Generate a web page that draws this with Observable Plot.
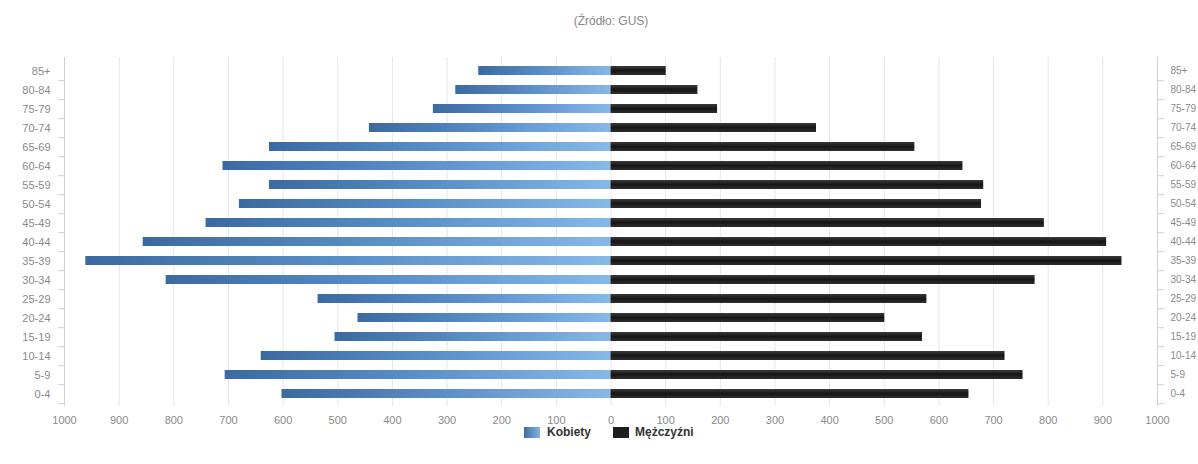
<!DOCTYPE html>
<html>
<head>
<meta charset="utf-8">
<script src="https://cdn.jsdelivr.net/npm/d3@7"></script>
<script src="https://cdn.jsdelivr.net/npm/@observablehq/plot@0.6"></script>
<style>
  body { margin: 0; background: #fff; font-family: "Liberation Sans", Arial, sans-serif; }
  #wrap { position: relative; width: 1198px; height: 464px; overflow: hidden; }
  #title { position: absolute; top: 14px; left: 0; width: 1222px; text-align: center; font-size: 12px; color: #888; }
  #chart { position: absolute; top: 40px; left: 0; }
  .sw { position: absolute; top: 427px; width: 16px; height: 11px; }
  .lg { position: absolute; top: 425px; font-size: 12px; font-weight: bold; color: #333; line-height: 14px; }
</style>
</head>
<body>
<div id="wrap">
  <div id="title">(Źródło: GUS)</div>
  <div id="chart"></div>
  <div class="sw" style="left:524px;background:linear-gradient(90deg,#3d6fa6,#80b3e4);"></div>
  <div class="lg" style="left:547px;">Kobiety</div>
  <div class="sw" style="left:613px;background:#1e1e1e;"></div>
  <div class="lg" style="left:635px;">Mężczyźni</div>
</div>
<script>
// Age groups, top to bottom
const ages = ["85+","80-84","75-79","70-74","65-69","60-64","55-59","50-54","45-49","40-44","35-39","30-34","25-29","20-24","15-19","10-14","5-9","0-4"];
// Population in thousands
const kobiety   = [242, 284, 325, 442, 625, 710, 625, 680, 741, 856, 961, 814, 536, 463, 505, 640, 706, 602];
const mezczyzni = [101, 159, 195, 376, 556, 644, 682, 678, 793, 907, 935, 776, 578, 501, 570, 721, 754, 655];
const xTicks = d3.range(-1000, 1001, 100);

const rows = ages.map((age, i) => ({age, women: kobiety[i], men: mezczyzni[i]}));

const H = 385, MT = 17, MB = 19;
const step = (H - MT - MB) / ages.length;
const axisColor = "#c8d0da";

const chart = Plot.plot({
  width: 1198,
  height: H,
  marginTop: MT,
  marginBottom: MB,
  marginLeft: 64,
  marginRight: 41,
  style: {fontFamily: "'Liberation Sans', Arial, sans-serif", fontSize: "11px", color: "#8a8a8a", background: "#fff"},
  x: {domain: [-1000, 1000], label: null},
  y: {domain: ages, paddingInner: 0.55, paddingOuter: 0.275, label: null},
  marks: [
    Plot.ruleX(xTicks, {stroke: "#e6e6e6", strokeWidth: 1}),
    Plot.ruleX([-1000, 1000], {stroke: axisColor}),
    // category boundary ticks on both side axes
    Plot.axisY({anchor: "left", text: null, tickSize: 6, stroke: axisColor, dy: step / 2}),
    Plot.axisY({anchor: "right", text: null, tickSize: 6, stroke: axisColor, dy: step / 2}),
    Plot.axisY({anchor: "left", tickSize: 0, tickPadding: 14, fontSize: 11}),
    Plot.axisY({anchor: "right", tickSize: 0, tickPadding: 13, fontSize: 10, textAnchor: "start"}),
    Plot.axisX({anchor: "bottom", ticks: xTicks, tickSize: 0, tickPadding: 10, fontSize: 11, tickFormat: d => String(Math.abs(d))}),
    Plot.barX(rows, {y: "age", x1: d => -d.women, x2: 0, fill: "url(#gradK)"}),
    Plot.barX(rows, {y: "age", x1: 0, x2: "men", fill: "url(#gradM)"})
  ]
});

// Gradients used by the bar fills
const ns = "http://www.w3.org/2000/svg";
const defs = document.createElementNS(ns, "defs");
defs.innerHTML = `
  <linearGradient id="gradK" x1="0" y1="0" x2="1" y2="0">
    <stop offset="0" stop-color="#3b6aa0"/>
    <stop offset="0.5" stop-color="#5a8fc8"/>
    <stop offset="1" stop-color="#86b8e8"/>
  </linearGradient>
  <linearGradient id="gradM" x1="0" y1="0" x2="0" y2="1">
    <stop offset="0" stop-color="#3a3a3a"/>
    <stop offset="0.5" stop-color="#161616"/>
    <stop offset="1" stop-color="#2e2e2e"/>
  </linearGradient>`;
chart.insertBefore(defs, chart.firstChild);

document.getElementById("chart").appendChild(chart);
</script>
</body>
</html>
